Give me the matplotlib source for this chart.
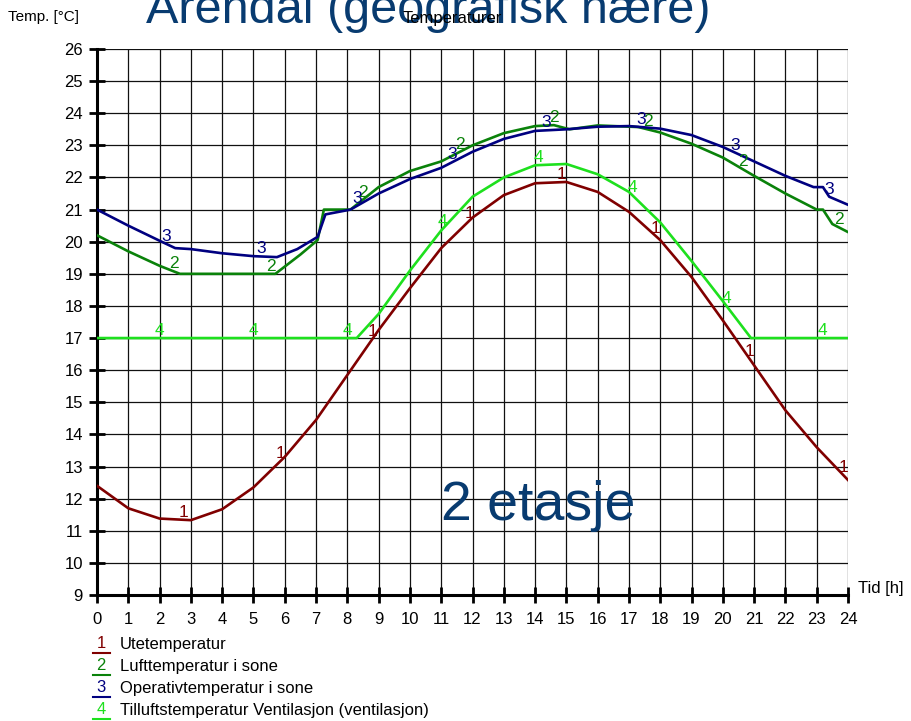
import numpy as np
import matplotlib.pyplot as plt
from matplotlib.lines import Line2D

plt.rcParams['font.family'] = ['Liberation Sans', 'DejaVu Sans']

# Utetemperatur (1)
t1 = list(range(25))
v1 = [12.4, 11.7, 11.38, 11.33, 11.67, 12.35, 13.3, 14.45, 15.85, 17.25, 18.55, 19.8, 20.75,
      21.45, 21.82, 21.86, 21.55, 20.93, 20.05, 18.9, 17.55, 16.15, 14.75, 13.6, 12.58]

# Lufttemperatur i sone (2)
t2 = [0, 1, 2, 2.65, 5.7, 6.5, 7.05, 7.25, 8.1, 9, 10, 11, 12, 13, 14, 14.6, 15.1, 16, 17.3,
      18, 19, 20, 21, 22, 23.0, 23.2, 23.5, 24]
v2 = [20.2, 19.7, 19.25, 19.0, 19.0, 19.6, 20.05, 21.0, 21.0, 21.7, 22.2, 22.5, 23.0, 23.38,
      23.6, 23.63, 23.5, 23.62, 23.57, 23.4, 23.05, 22.62, 22.05, 21.5, 21.0, 21.0, 20.55, 20.3]

# Operativtemperatur i sone (3)
t3 = [0, 1, 2, 2.5, 3, 4, 5, 5.75, 6.4, 7.05, 7.3, 8.1, 9, 10, 11, 12, 13, 14, 15, 16, 17, 18,
      19, 20, 21, 22, 22.9, 23.2, 23.4, 24]
v3 = [21.0, 20.5, 20.03, 19.8, 19.77, 19.64, 19.55, 19.52, 19.77, 20.15, 20.85, 21.0, 21.5,
      21.95, 22.3, 22.8, 23.2, 23.45, 23.5, 23.58, 23.6, 23.52, 23.32, 22.95, 22.5, 22.05,
      21.7, 21.7, 21.4, 21.15]

# Tilluftstemperatur Ventilasjon (4)
t4 = [0, 8.3, 9, 10, 11, 12, 13, 14, 15, 16, 17, 18, 19, 20, 20.9, 24]
v4 = [17.0, 17.0, 17.75, 19.1, 20.35, 21.4, 22.0, 22.38, 22.42, 22.1, 21.55, 20.6, 19.4, 18.15,
      17.0, 17.0]

names = ['Utetemperatur', 'Lufttemperatur i sone', 'Operativtemperatur i sone',
         'Tilluftstemperatur Ventilasjon (ventilasjon)']
colors = ['#800000', '#0a820a', '#000080', '#1ee01e']
label_x = [
    [2.75, 5.85, 8.8, 11.9, 14.85, 17.85, 20.85, 23.85],
    [2.45, 5.55, 8.5, 11.6, 14.6, 17.6, 20.65, 23.7],
    [2.2, 5.25, 8.3, 11.35, 14.35, 17.4, 20.4, 23.4],
    [2.0, 5.0, 8.0, 11.05, 14.1, 17.1, 20.13, 23.17],
]

series = [(t1, v1), (t2, v2), (t3, v3), (t4, v4)]

fig = plt.figure(figsize=(9.11, 7.21), dpi=100)
ax = fig.add_axes([97 / 911, 1 - 595 / 721, 751 / 911, 546 / 721])

for i, (t, v) in enumerate(series):
    ax.plot(t, v, color=colors[i], lw=1.9, zorder=3)
    for lx in label_x[i]:
        ax.text(lx, np.interp(lx, t, v), str(i + 1), color=colors[i], fontsize=12.5,
                ha='center', va='bottom', zorder=4)

ax.set_xlim(0, 24)
ax.set_ylim(9, 26)
ax.set_xticks(range(0, 25))
ax.set_yticks(range(9, 27))
ax.grid(True, color='#111111', lw=0.9)
ax.set_axisbelow(True)
for s in ['top', 'right']:
    ax.spines[s].set_visible(False)
for s in ['left', 'bottom']:
    ax.spines[s].set_linewidth(2.2)
ax.tick_params(direction='inout', length=12, width=2, labelsize=12, pad=6)
ax.tick_params(axis='y', pad=4)

ax.text(14.1, 11.34, '2 etasje', fontsize=40, color='#083b70', ha='center', va='baseline',
        zorder=5)

# big title, partly outside the top edge as in the original
fig.text(428 / 911, 1 - 23 / 721, 'Arendal (geografisk nære)', fontsize=35, color='#083b70',
         ha='center', va='baseline')
fig.text(452 / 911, 1 - 18 / 721, 'Temperaturer', fontsize=12, ha='center', va='center')
fig.text(8 / 911, 1 - 17 / 721, 'Temp. [°C]', fontsize=11, ha='left', va='center')
fig.text(858 / 911, 1 - 588 / 721, 'Tid [h]', fontsize=12, ha='left', va='center')

for i, name in enumerate(names):
    yc = 644 + 22 * i
    fig.text(101 / 911, 1 - yc / 721, str(i + 1), color=colors[i], fontsize=12,
             ha='center', va='center')
    fig.add_artist(Line2D([93 / 911, 110 / 911], [1 - (yc + 9) / 721] * 2, color=colors[i],
                          lw=1.5))
    fig.text(120 / 911, 1 - yc / 721, name, fontsize=12, ha='left', va='center')

fig.savefig('out.png', dpi=100)
